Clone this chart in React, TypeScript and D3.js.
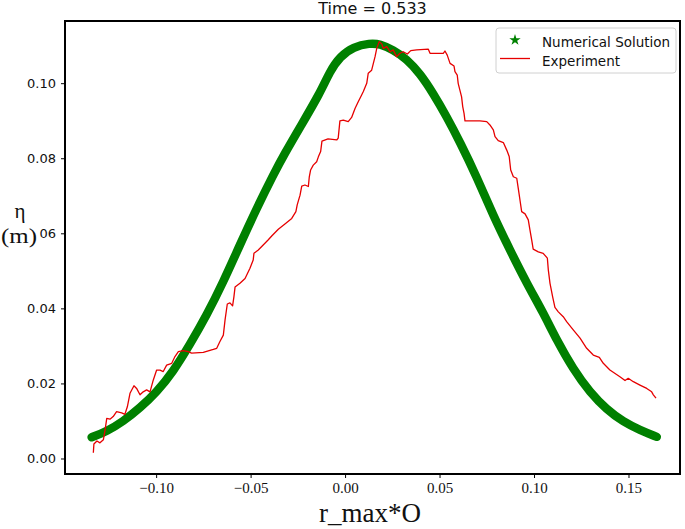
import React from "react";
import * as d3 from "d3";

const title = "Time = 0.533";
const xLabel = "r_max*O";
const yLabelTop = "η";
const yLabelBottom = "(m)";
const legendLabels = ["Numerical Solution", "Experiment"];

const xTicks = [-0.1, -0.05, 0, 0.05, 0.1, 0.15];
const xTickLabels = ["−0.10", "−0.05", "0.00", "0.05", "0.10", "0.15"];
const yTicks = [0, 0.02, 0.04, 0.06, 0.08, 0.1];
const yTickLabels = ["0.00", "0.02", "0.04", "0.06", "0.08", "0.10"];

// Numerical solution (green)
const numX = [
  -0.1344, -0.1264, -0.1177, -0.1088, -0.1, -0.0912, -0.0824, -0.0735, -0.0647, -0.0559,
  -0.0471, -0.0383, -0.0321, -0.0241, -0.0135, -0.0083, -0.003, 0.0041, 0.0129, 0.0182,
  0.0252, 0.0323, 0.0394, 0.0464, 0.0535, 0.0605, 0.0694, 0.0782, 0.087, 0.0959,
  0.1046, 0.1117, 0.1205, 0.1294, 0.1382, 0.147, 0.1558, 0.1647,
];
const numY = [
  0.00578, 0.00735, 0.01, 0.0136, 0.0178, 0.0233, 0.0305, 0.0383, 0.0472, 0.0571,
  0.0667, 0.0757, 0.0815, 0.0884, 0.0975, 0.1033, 0.1072, 0.1098, 0.1108, 0.1106,
  0.109, 0.1066, 0.1027, 0.0974, 0.0912, 0.0845, 0.0752, 0.0648, 0.0557, 0.0468,
  0.039, 0.0317, 0.0239, 0.0177, 0.0132, 0.0099, 0.0077, 0.0059,
];

// Experiment (red)
const expX = [
  -0.1335, -0.1332, -0.1316, -0.13, -0.1282, -0.1273, -0.1264, -0.1247, -0.123, -0.1212,
  -0.1185, -0.1168, -0.1155, -0.1141, -0.112, -0.1106, -0.1088, -0.1071, -0.1053, -0.1035,
  -0.1018, -0.1, -0.0982, -0.0965, -0.0947, -0.092, -0.0903, -0.0885, -0.0859, -0.0833,
  -0.0815, -0.0753, -0.07, -0.0682, -0.0665, -0.0647, -0.0638, -0.0626, -0.0612, -0.0598,
  -0.0591, -0.0585, -0.0559, -0.0532, -0.0506, -0.0489, -0.0485, -0.0462, -0.0436, -0.0409,
  -0.0391, -0.0356, -0.0321, -0.0285, -0.0263, -0.0256, -0.0241, -0.0232, -0.0215, -0.0197,
  -0.0192, -0.0185, -0.0171, -0.0153, -0.0144, -0.0132, -0.0125, -0.0093, -0.0047, -0.0039,
  -0.003, -0.0012, 0.0014, 0.0032, 0.005, 0.0067, 0.0085, 0.0094, 0.0112, 0.012,
  0.0138, 0.0147, 0.0156, 0.0165, 0.0178, 0.0191, 0.02, 0.0218, 0.0235, 0.0252,
  0.027, 0.0288, 0.0305, 0.0327, 0.0345, 0.0376, 0.0438, 0.0447, 0.0517, 0.0526,
  0.0538, 0.0553, 0.0574, 0.0579, 0.0591, 0.0596, 0.0605, 0.0614, 0.062, 0.0627,
  0.0632, 0.0667, 0.0711, 0.0747, 0.0764, 0.0782, 0.0791, 0.0808, 0.0835, 0.0853,
  0.0866, 0.0874, 0.0888, 0.0906, 0.0914, 0.0923, 0.0932, 0.095, 0.0967, 0.0976,
  0.0985, 0.0993, 0.102, 0.1046, 0.1068, 0.1073, 0.1082, 0.1096, 0.1108, 0.1126,
  0.1152, 0.117, 0.1205, 0.1241, 0.1276, 0.1311, 0.1343, 0.1364, 0.1399, 0.1452,
  0.1479, 0.1496, 0.1523, 0.1558, 0.1594, 0.162, 0.1629, 0.1643,
];
const expY = [
  0.00168, 0.004, 0.0048, 0.0043, 0.0051, 0.0077, 0.0108, 0.0106, 0.0113, 0.0126,
  0.0123, 0.0119, 0.0139, 0.0175, 0.0195, 0.0188, 0.0171, 0.0179, 0.0184, 0.0179,
  0.021, 0.0237, 0.0237, 0.0233, 0.025, 0.0255, 0.0273, 0.0286, 0.0289, 0.0286,
  0.0282, 0.0284, 0.0292, 0.0295, 0.0313, 0.033, 0.037, 0.0413, 0.0416, 0.0408,
  0.0432, 0.0458, 0.0468, 0.0481, 0.0508, 0.053, 0.0548, 0.0557, 0.057, 0.0584,
  0.0594, 0.0612, 0.0626, 0.0641, 0.0659, 0.0677, 0.0703, 0.0727, 0.073, 0.0726,
  0.0752, 0.077, 0.0783, 0.0792, 0.0805, 0.0819, 0.0847, 0.0853, 0.085, 0.0855,
  0.0901, 0.0903, 0.0899, 0.091, 0.0934, 0.0952, 0.097, 0.0979, 0.1001, 0.1028,
  0.1036, 0.1054, 0.1072, 0.1094, 0.1112, 0.1106, 0.1094, 0.1099, 0.1085, 0.109,
  0.1072, 0.1081, 0.1085, 0.1079, 0.1088, 0.109, 0.1092, 0.1081, 0.1081, 0.1087,
  0.1076, 0.1054, 0.1047, 0.1032, 0.1023, 0.1001, 0.0983, 0.0965, 0.0939, 0.0921,
  0.0901, 0.0901, 0.0901, 0.0899, 0.089, 0.0877, 0.0859, 0.0848, 0.0843, 0.0823,
  0.0806, 0.077, 0.0752, 0.0748, 0.0721, 0.069, 0.0659, 0.0653, 0.0637, 0.061,
  0.0584, 0.0559, 0.0552, 0.0548, 0.0535, 0.0504, 0.0468, 0.0432, 0.0404, 0.0392,
  0.0379, 0.0366, 0.0344, 0.0322, 0.0295, 0.0277, 0.0271, 0.0255, 0.0237, 0.0219,
  0.0209, 0.0215, 0.0206, 0.0197, 0.0188, 0.0179, 0.0171, 0.0162,
];

const W = 685;
const H = 529;
const L = 65, R = 680, T = 21, B = 474;

export default function App() {
  const x = d3.scaleLinear().domain([-0.1485, 0.177]).range([L, R]);
  const y = d3.scaleLinear().domain([-0.004, 0.1167]).range([B, T]);

  const numPts: [number, number][] = numX.map((v, i) => [v, numY[i]]);
  const expPts: [number, number][] = expX.map((v, i) => [v, expY[i]]);

  const greenLine = d3
    .line<[number, number]>()
    .x((d) => x(d[0]))
    .y((d) => y(d[1]))
    .curve(d3.curveBasis)(numPts) as string;
  const redLine = d3
    .line<[number, number]>()
    .x((d) => x(d[0]))
    .y((d) => y(d[1]))(expPts) as string;

  const star = d3.symbol().type(d3.symbolStar).size(40)() as string;

  const sans = "DejaVu Sans, sans-serif";
  const serif = "Liberation Serif, Times New Roman, serif";

  return (
    <svg
      width={W}
      height={H}
      style={{ position: "absolute", left: 0, top: 0, background: "#fff" }}
    >
      <rect x={0} y={0} width={W} height={H} fill="#fff" />
      <defs>
        <clipPath id="plotclip">
          <rect x={L} y={T} width={R - L} height={B - T} />
        </clipPath>
      </defs>
      <g clipPath="url(#plotclip)">
        <path
          d={greenLine}
          fill="none"
          stroke="#008000"
          strokeWidth={8.5}
          strokeLinecap="round"
          strokeLinejoin="round"
        />
        <path d={redLine} fill="none" stroke="#e60000" strokeWidth={1.3} strokeLinejoin="round" />
      </g>
      {/* frame */}
      <rect x={L} y={T} width={R - L} height={B - T} fill="none" stroke="#000" strokeWidth={2} />
      {/* x ticks */}
      {xTicks.map((t, i) => (
        <g key={"xt" + i}>
          <line x1={x(t)} x2={x(t)} y1={B} y2={B + 4} stroke="#000" strokeWidth={1} />
          <text
            x={x(t)}
            y={493}
            textAnchor="middle"
            fontFamily={serif}
            fontSize={15}
            fill="#111"
          >
            {xTickLabels[i]}
          </text>
        </g>
      ))}
      {/* y ticks */}
      {yTicks.map((t, i) => (
        <g key={"yt" + i}>
          <line x1={L - 4} x2={L} y1={y(t)} y2={y(t)} stroke="#000" strokeWidth={1} />
          <text
            x={56}
            y={y(t) + 4.5}
            textAnchor="end"
            fontFamily={sans}
            fontSize={13}
            fill="#111"
          >
            {yTickLabels[i]}
          </text>
        </g>
      ))}
      {/* title */}
      <text x={(L + R) / 2} y={13.5} textAnchor="middle" fontFamily={sans} fontSize={16} fill="#111">
        {title}
      </text>
      {/* x label */}
      <text x={370} y={522} textAnchor="middle" fontFamily={serif} fontSize={27} fill="#111">
        {xLabel}
      </text>
      {/* y label */}
      <text x={20} y={218} textAnchor="middle" fontFamily={serif} fontSize={21} fill="#111">
        {yLabelTop}
      </text>
      <rect x={0} y={226} width={39} height={22} fill="#fff" />
      <text
        x={19}
        y={243}
        textAnchor="middle"
        fontFamily={serif}
        fontSize={21}
        fill="#111"
        textLength={36}
        lengthAdjust="spacingAndGlyphs"
      >
        {yLabelBottom}
      </text>
      {/* legend */}
      <g>
        <rect x={496} y={28} width={180} height={45} rx={3} fill="#fff" stroke="#d0d0d0" strokeWidth={1} />
        <path d={star} transform={`translate(515,40)`} fill="#008000" />
        <text x={542} y={46.5} fontFamily={sans} fontSize={13.5} fill="#111">
          {legendLabels[0]}
        </text>
        <line x1={500} x2={530} y1={58.5} y2={58.5} stroke="#e60000" strokeWidth={1.3} />
        <text x={542} y={65.5} fontFamily={sans} fontSize={13.5} fill="#111">
          {legendLabels[1]}
        </text>
      </g>
    </svg>
  );
}
